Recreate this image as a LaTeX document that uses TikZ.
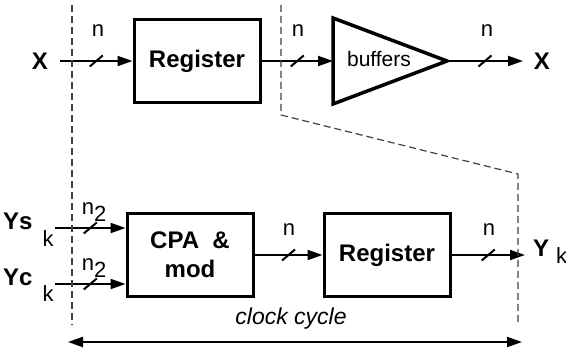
\documentclass[tikz,border=0pt]{standalone}
\usepackage{fontspec}
\setmainfont{Liberation Sans}
\usetikzlibrary{arrows.meta,decorations.markings}

\newcommand\bigbf{\fontsize{24}{28}\selectfont\bfseries}
\newcommand\smalltxt{\fontsize{22}{26}\selectfont\mdseries}

\begin{document}
\begin{tikzpicture}[x=1pt, y=-1pt, >={Triangle[length=15pt,width=10pt]},
  every node/.style={font=\smalltxt},
  blk/.style={draw, line width=3pt, minimum width=126pt, minimum height=83pt,
    align=center, font=\fontsize{24}{29}\selectfont\bfseries},
  lbl/.style={inner sep=0pt, anchor=base west},
  bus/.style={line width=2pt, ->, postaction={decorate},
    decoration={markings, mark=at position 0.5 with
      {\draw[-, line width=2pt] (-6.5pt,-5.5pt) -- (6.5pt,5.5pt);}}},
  cut/.style={line width=1.2pt, black!75, dash pattern=on 7pt off 4pt}]
\useasboundingbox (0,0) rectangle (566,350);

% top row: register feeding the buffers
\node (xin) at (40,61) {\bigbf X};
\node[blk] (reg1) at (197,61) {Register};
\node (buf) at (379,59) {\fontsize{21}{24}\selectfont buffers};
\node (xout) at (542,61) {\bigbf X};
\draw[line width=3.5pt, line join=miter] (333,18) -- (447,61) -- (333,104) -- cycle;

\coordinate (xa) at (60,61);
\coordinate (bufin) at (333,61);
\coordinate (bufout) at (447,61);
\coordinate (xb) at (523,61);

\draw[bus] (xa) to (reg1);
\draw[bus] (reg1) to (bufin);
\draw[bus] (bufout) to (xb);

\node (n1) at (98,31) {n};
\node (n2) at (298,31) {n};
\node (n3) at (487,31) {n};

% bottom row: adder and register
\node[lbl] (ys) at (3,230) {\bigbf Ys\hspace{10pt}\smalltxt\raisebox{-17pt}{k}};
\node[lbl] (yc) at (3,286) {\bigbf Yc\hspace{10pt}\smalltxt\raisebox{-16pt}{k}};
\node[blk] (cpa) at (190,255) {CPA\ \ \&\\mod};
\node[blk] (reg2) at (387,255) {Register};
\node[lbl] (yk) at (533,257) {\bigbf Y\hspace{7pt}\smalltxt\raisebox{-7pt}{k}};

\coordinate (ysa) at (55,228);
\coordinate (yca) at (55,284);
\coordinate (yb) at (525,255);

\draw[bus] (ysa) to (ysa -| cpa.west);
\draw[bus] (yca) to (yca -| cpa.west);
\draw[bus] (cpa) to (reg2);
\draw[bus] (reg2) to (yb);

\node (n4) at (94,212) {n\raisebox{-7pt}{2}};
\node (n5) at (94,268) {n\raisebox{-7pt}{2}};
\node (n6) at (289,230) {n};
\node (n7) at (489,230) {n};

% stage boundaries
\draw[cut] (72,5) -- (72,325);
\draw[cut] (281,5) -- (281,115) -- (518,174) -- (518,325);

% clock period
\node (clk) at (291,319) {\fontsize{23}{26}\selectfont\itshape clock cycle};
\coordinate (ca) at (68,342);
\coordinate (cb) at (522,342);
\draw[line width=2pt, <->] (ca) to (cb);
\end{tikzpicture}
\end{document}
